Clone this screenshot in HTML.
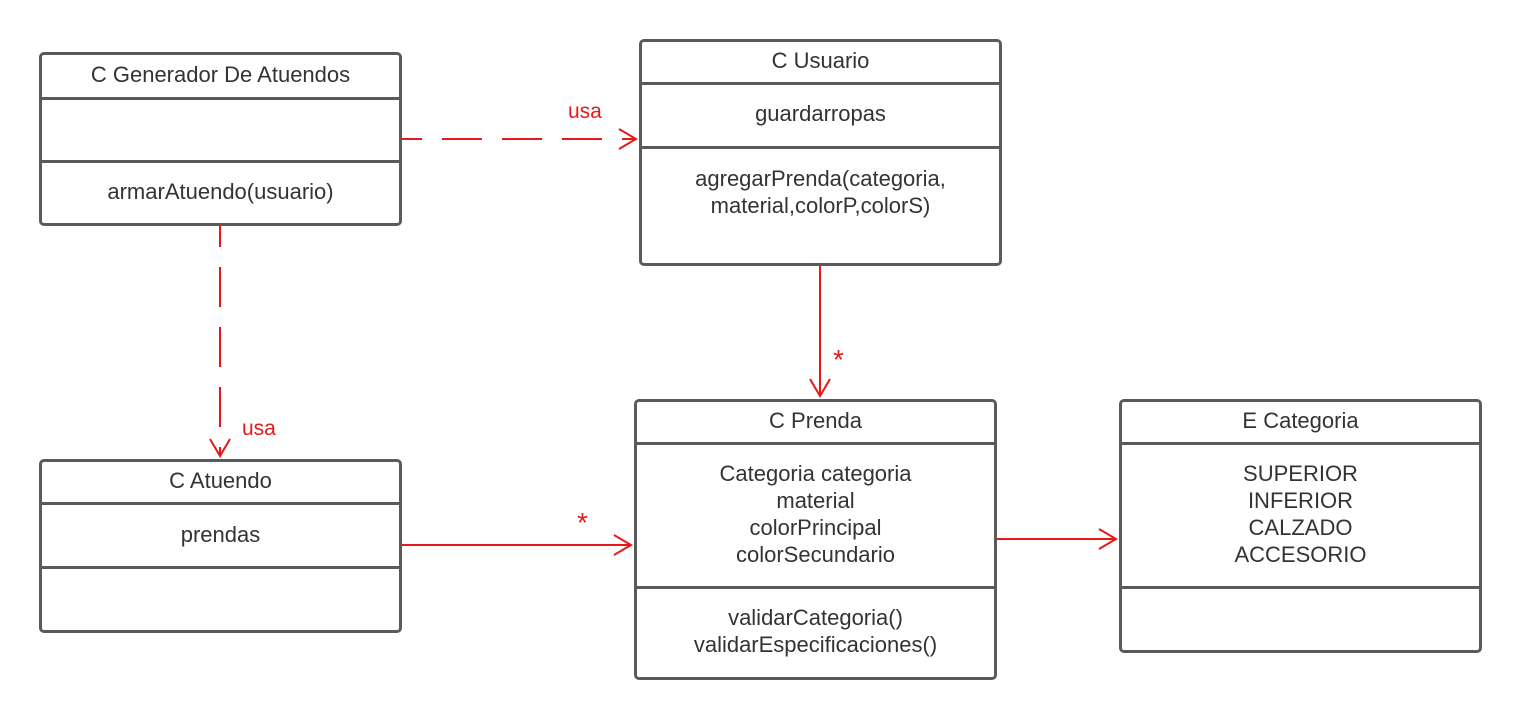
<!DOCTYPE html>
<html><head><meta charset="utf-8"><style>
body{margin:0;width:1520px;height:718px;background:#fff;position:relative;overflow:hidden;font-family:"Liberation Sans",sans-serif;color:#333;}
.b{position:absolute;border:3px solid #5a5a5a;border-radius:5px;box-sizing:border-box;background:#fff;}
.s{position:absolute;left:0;right:0;border-top:3px solid #5a5a5a;}
.t{position:absolute;left:0;right:0;text-align:center;font-size:22px;line-height:27px;}
svg{position:absolute;left:0;top:0;}
</style></head><body>

<div class="b" style="left:39px;top:52px;width:363px;height:174px">
 <div class="t" style="top:6px">C Generador De Atuendos</div>
 <div class="s" style="top:42px"></div>
 <div class="s" style="top:105px"></div>
 <div class="t" style="top:123px">armarAtuendo(usuario)</div>
</div>

<div class="b" style="left:639px;top:39px;width:363px;height:227px">
 <div class="t" style="top:5px">C Usuario</div>
 <div class="s" style="top:40px"></div>
 <div class="t" style="top:58px">guardarropas</div>
 <div class="s" style="top:104px"></div>
 <div class="t" style="top:123px">agregarPrenda(categoria,<br>material,colorP,colorS)</div>
</div>

<div class="b" style="left:39px;top:459px;width:363px;height:174px">
 <div class="t" style="top:5px">C Atuendo</div>
 <div class="s" style="top:40px"></div>
 <div class="t" style="top:59px">prendas</div>
 <div class="s" style="top:104px"></div>
</div>

<div class="b" style="left:634px;top:399px;width:363px;height:281px">
 <div class="t" style="top:5px">C Prenda</div>
 <div class="s" style="top:40px"></div>
 <div class="t" style="top:58px">Categoria categoria<br>material<br>colorPrincipal<br>colorSecundario</div>
 <div class="s" style="top:184px"></div>
 <div class="t" style="top:202px">validarCategoria()<br>validarEspecificaciones()</div>
</div>

<div class="b" style="left:1119px;top:399px;width:363px;height:254px">
 <div class="t" style="top:5px">E Categoria</div>
 <div class="s" style="top:40px"></div>
 <div class="t" style="top:58px">SUPERIOR<br>INFERIOR<br>CALZADO<br>ACCESORIO</div>
 <div class="s" style="top:184px"></div>
</div>

<svg width="1520" height="718">
 <g stroke="#e81818" stroke-width="2" fill="none">
  <line x1="401" y1="139" x2="636" y2="139" stroke-dasharray="40 20" stroke-dashoffset="19"/>
  <polyline points="619,129 636,139 619,149"/>
  <line x1="220" y1="226" x2="220" y2="456" stroke-dasharray="40 20" stroke-dashoffset="19"/>
  <polyline points="210,439 220,456 230,439"/>
  <line x1="820" y1="266" x2="820" y2="396"/>
  <polyline points="810,379 820,396 830,379"/>
  <line x1="401" y1="545" x2="631" y2="545"/>
  <polyline points="614,535 631,545 614,555"/>
  <line x1="997" y1="539" x2="1116" y2="539"/>
  <polyline points="1099,529 1116,539 1099,549"/>
 </g>
 <g fill="#e81818" font-family="Liberation Sans, sans-serif" font-size="21">
  <text x="568" y="118">usa</text>
  <text x="242" y="435">usa</text>
  <text x="833" y="369" font-size="28">*</text>
  <text x="577" y="532" font-size="28">*</text>
 </g>
</svg>
</body></html>
